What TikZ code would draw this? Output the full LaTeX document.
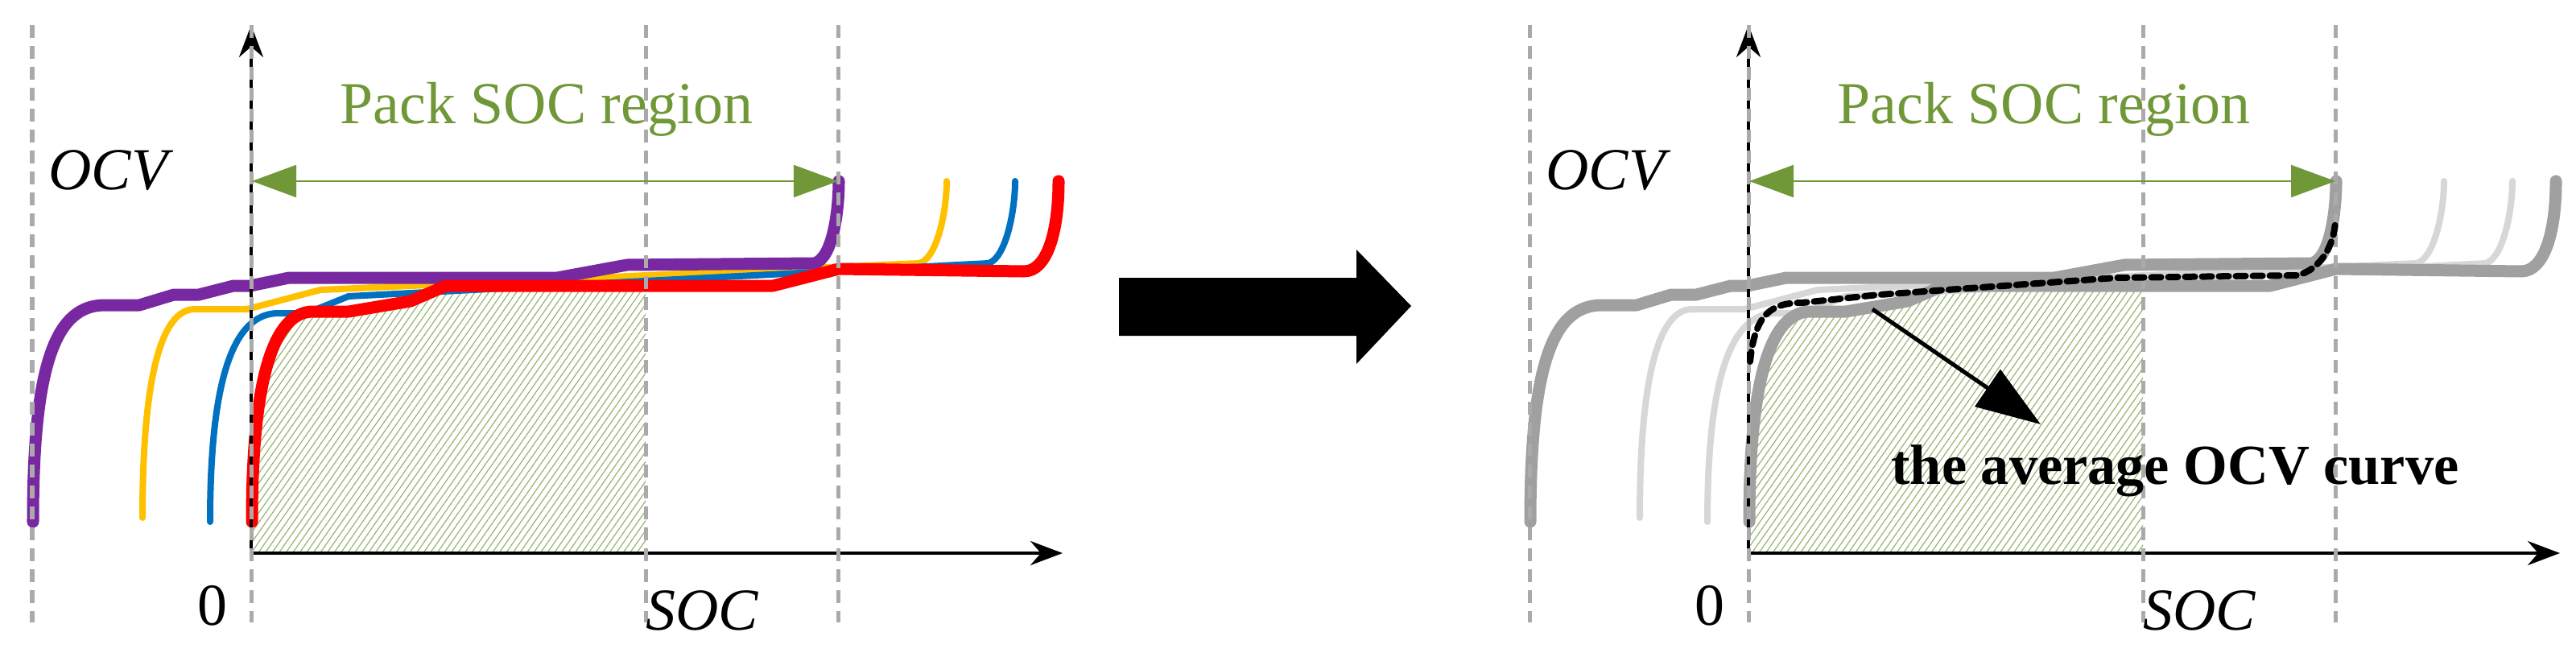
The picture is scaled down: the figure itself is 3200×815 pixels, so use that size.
\documentclass[tikz,border=0pt]{standalone}
\usepackage{fontspec}
\setmainfont{Liberation Serif}
\usetikzlibrary{arrows.meta,patterns.meta}
\definecolor{pgreen}{RGB}{112,152,56}
\definecolor{hgreen}{RGB}{150,180,110}
\definecolor{cpurple}{RGB}{120,40,160}
\definecolor{cyellow}{RGB}{255,192,0}
\definecolor{cblue}{RGB}{0,112,192}
\definecolor{cred}{RGB}{255,0,0}
\definecolor{dgray}{RGB}{160,160,160}
\definecolor{lgray}{RGB}{215,215,215}
\definecolor{vgray}{RGB}{170,170,170}
\tikzset{
  vdash/.style={vgray,line width=0.05cm,dash pattern=on 0.16cm off 0.1cm},
  axis/.style={black,line width=0.04cm,-{Stealth[length=0.4cm,width=0.3cm]}},
  rng/.style={pgreen,line width=0.02cm,{Triangle[length=0.55cm,width=0.4cm]}-{Triangle[length=0.55cm,width=0.4cm]}},
  lbl/.style={font=\fontsize{21}{24}\selectfont},
  thick curve/.style={line width=0.15cm,line cap=round,line join=round},
  thin curve/.style={line width=0.08cm,line cap=round,line join=round},
  hatch/.style={pattern={Lines[angle=55,distance=0.07cm,line width=0.012cm]},pattern color=hgreen},
}
\newcommand\cvP{(41,648) .. controls (41,450) and (70,379) .. (130,379) -- (173,379) -- (216,366) -- (247,366) -- (290,355) -- (311,355) -- (359,345) -- (692,345) -- (779,329) -- (1012,327) .. controls (1035,320) and (1042,260) .. (1042,225)}
\newcommand\cvY{(177,643) .. controls (177,470) and (200,384) .. (242,384) -- (307,384) -- (398,360) -- (1142,327) .. controls (1165,320) and (1176,260) .. (1176,225)}
\newcommand\cvB{(261,648) .. controls (261,470) and (290,389) .. (346,389) -- (381,389) -- (433,368) -- (1228,327) .. controls (1250,320) and (1261,260) .. (1261,225)}
\newcommand\cvR{(313,648) .. controls (313,470) and (340,387) .. (389,387) -- (433,387) -- (510,374) -- (554,355) -- (960,355) -- (1042,334) -- (1272,337) .. controls (1300,337) and (1315,290) .. (1315,225)}
\begin{document}
\begin{tikzpicture}[x=0.01cm,y=-0.01cm]
\useasboundingbox (0,0) rectangle (3200,815);
% ---------- panels ----------
\foreach \s/\cp/\cy/\cb/\cr in {0/cpurple/cyellow/cblue/cred, 1860/dgray/lgray/lgray/dgray}{
\begin{scope}[xshift=\s*0.01cm]
  \begin{scope}
    \clip (313,300) rectangle (802,687);
    \fill[hatch] \cvR -- (1315,687) -- (313,687) -- cycle;
  \end{scope}
  \draw[\cy,thin curve] \cvY;
  \draw[\cb,thin curve] \cvB;
  \draw[\cp,thick curve] \cvP;
  \draw[\cr,thick curve] \cvR;
  \coordinate (o\s) at (312,687);
  \coordinate (yt\s) at (312,31);
  \coordinate (xe\s) at (1320,687);
  \draw[axis] (o\s) -- (yt\s);
  \draw[axis] (o\s) -- (xe\s);
  \foreach \vx in {40,312,802,1041}{
    \coordinate (vt\s\vx) at (\vx,31);
    \coordinate (vb\s\vx) at (\vx,773);
    \draw[vdash] (vt\s\vx) -- (vb\s\vx);
  }
  \coordinate (ra\s) at (313,225);
  \coordinate (rb\s) at (1041,225);
  \draw[rng] (ra\s) -- (rb\s);
  \node[lbl,text=pgreen] (pack\s) at (679,136) {Pack SOC region};
  \node[lbl,anchor=west] (ocv\s) at (48,212) {\itshape OCV};
  \node[lbl] (soc\s) at (872,758) {\itshape SOC};
  \node[lbl] (zero\s) at (264,752) {0};
\end{scope}}
% ---------- average curve ----------
\draw[black,line width=0.08cm,dash pattern=on 0.12cm off 0.09cm,line cap=round]
  (2174,449) .. controls (2180,390) and (2200,376) .. (2239,376) -- (2334,366) -- (2629,345) -- (2853,342) .. controls (2885,335) and (2901,300) .. (2901,272);
\coordinate (as) at (2326,384);
\coordinate (ae) at (2535,527);
\draw[black,line width=0.05cm,-{Triangle[length=0.8cm,width=0.55cm]}] (as) -- (ae);
\node[font=\fontsize{20}{24}\selectfont\bfseries] (avg) at (2702,585) {the average OCV curve};
% ---------- big arrow ----------
\fill[black] (1390,345) -- (1685,345) -- (1685,310) -- (1753,380) -- (1685,452) -- (1685,417) -- (1390,417) -- cycle;
\end{tikzpicture}
\end{document}
